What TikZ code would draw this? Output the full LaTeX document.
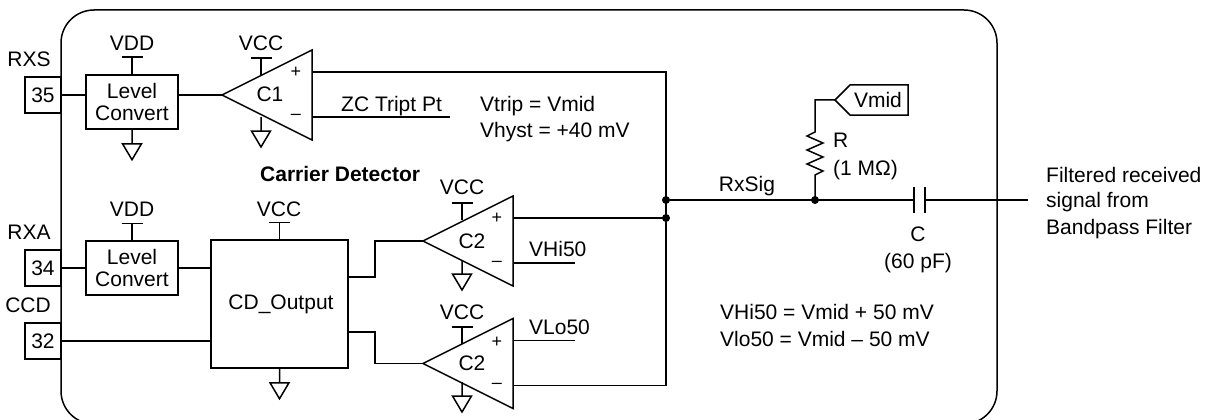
\documentclass[tikz,border=0pt]{standalone}
\usepackage{fontspec}
\setmainfont{Liberation Sans}
\begin{document}
\begin{tikzpicture}[x=1pt,y=-1pt,line join=miter,
  wire/.style={line width=1.5pt},
  txt/.style={font=\fontsize{21}{24}\selectfont,inner sep=0pt,text depth=0pt},
  sign/.style={font=\fontsize{18}{20}\selectfont,inner sep=0pt,text depth=0pt},
  ltxt/.style={txt,anchor=west},
  boxed/.style={draw,line width=1.5pt,fill=white,inner sep=0pt,align=center,font=\fontsize{21}{22}\selectfont},
  pinbox/.style={boxed,minimum width=36pt,minimum height=36pt},
  lcbox/.style={boxed,minimum width=92pt,minimum height=54pt},
  dot/.style={circle,fill=black,inner sep=0pt,minimum size=8pt},
  gnd/.pic={\draw[wire] (0,0) -- (0,14) (-9.5,14) -- (9.5,14) -- (0,30) -- cycle;},
  vsup/.pic={\draw[wire] (0,0) -- (0,-17) (-10.5,-17) -- (10.5,-17);},
  comp/.pic={\draw[wire,fill=white] (0,0) -- (90,-45) -- (90,45) -- cycle;
    \coordinate (-tip) at (0,0);
    \coordinate (-plus) at (90,-23);
    \coordinate (-minus) at (90,22);},
]
\useasboundingbox (0,0) rectangle (1211,420);
\begin{scope}
\clip (0,0) rectangle (1211,420);
\draw[wire,rounded corners=33pt] (61,10) rectangle (997,424);
\end{scope}
% pins
\node[pinbox] (p35) at (43,95) {35};
\node[pinbox] (p34) at (43,268) {34};
\node[pinbox] (p32) at (43,341) {32};
\node[txt] (lrxs) at (29,59) {RXS};
\node[txt] (lrxa) at (29,232) {RXA};
\node[txt] (lccd) at (28,305) {CCD};
% level converters and output block
\node[lcbox] (lc1) at (132,102) {Level\\Convert};
\node[lcbox] (lc2) at (132,268) {Level\\Convert};
\node[boxed,minimum width=137pt,minimum height=128pt] (cdo) at (279.5,304) {};
\node[txt] (cdt) at (281,302) {CD\_Output};
% comparators
\pic (c1) at (222,95) {comp};
\pic (c2) at (423,241) {comp};
\pic (c3) at (423,363.5) {comp};
\node[txt] (c1t) at (270,94) {C1};
\node[txt] (c2t) at (472,241) {C2};
\node[txt] (c3t) at (472,363) {C2};
\node[sign] (c1p) at (296,72) {+};
\node[sign] (c1m) at (296,117) {–};
\node[sign] (c2p) at (497,218) {+};
\node[sign] (c2m) at (497,264) {–};
\node[sign] (c3p) at (497,342) {+};
\node[sign] (c3m) at (497,386) {–};
% supplies
\pic at (lc1.north) {vsup};
\pic at (lc2.north) {vsup};
\pic at (cdo.north) {vsup};
\pic at (261,75) {vsup};
\pic at (462,220) {vsup};
\pic at (462,344) {vsup};
\node[txt] (v1) at (132,43) {VDD};
\node[txt] (v2) at (261,43) {VCC};
\node[txt] (v3) at (132,209) {VDD};
\node[txt] (v4) at (279,209) {VCC};
\node[txt] (v5) at (462,187) {VCC};
\node[txt] (v6) at (462,312) {VCC};
% grounds
\pic at (lc1.south) {gnd};
\pic at (cdo.south) {gnd};
\pic at (261,117) {gnd};
\pic at (462,260) {gnd};
\pic at (462,382) {gnd};
% wires
\coordinate (j1) at (666,200);
\coordinate (j2) at (666,218);
\coordinate (j3) at (815,200);
\coordinate (sigend) at (1028,200);
\coordinate (capl) at (914,200);
\coordinate (capr) at (925,200);
\coordinate (zcend) at (450,117);
\coordinate (hiend) at (575,263);
\coordinate (loend) at (575,340.5);
\draw[wire] (p35) ++(18,0) -- (lc1.west |- p35);
\draw[wire] (p34.east) -- (lc2.west |- p34);
\draw[wire] (p32.east) -- (cdo.west |- p32);
\draw[wire] (lc1.east |- c1-tip) -- (c1-tip);
\draw[wire] (lc2.east) -- (cdo.west |- lc2);
\draw[wire] (cdo.east |- 0,277) -- (375,277) -- (375,241) -- (c2-tip);
\draw[wire] (cdo.east |- 0,332) -- (375,332) -- (375,363.5) -- (c3-tip);
\draw[wire] (c1-plus) -- (j1 |- c1-plus) -- (c3-minus -| j1) -- (c3-minus);
\draw[wire] (c1-minus) -- (zcend);
\draw[wire] (c2-plus) -- (j2);
\draw[wire] (c2-minus) -- (hiend);
\draw[wire] (c3-plus) -- (loend);
\draw[wire] (j1) -- (capl);
\draw[wire] (capr) -- (sigend);
\draw[wire] (capl |- 0,187) -- (capl |- 0,213);
\draw[wire] (capr |- 0,187) -- (capr |- 0,213);
\node[dot] (d1) at (j1) {};
\node[dot] (d2) at (j2) {};
\node[dot] (d3) at (j3) {};
% resistor and Vmid flag
\coordinate (ftip) at (835,100);
\draw[wire] (ftip) -- (850,85) -- (908,85) -- (908,115) -- (850,115) -- cycle;
\node[txt] (vm) at (878,100) {Vmid};
\draw[wire] (j3) -- (815,175) -- (823,171) -- (807,164) -- (823,157) -- (807,150) -- (823,143) -- (807,136) -- (815,132) -- (815,100) -- (ftip);
% texts
\node[ltxt] (t1) at (341,104) {ZC Tript Pt};
\node[ltxt] (t2) at (480,104) {Vtrip = Vmid};
\node[ltxt] (t3) at (480,130) {Vhyst = +40 mV};
\node[ltxt,font=\fontsize{21}{24}\selectfont\bfseries] (t4) at (260,174) {Carrier Detector};
\node[ltxt] (t5) at (529,249) {VHi50};
\node[ltxt] (t6) at (529,327) {VLo50};
\node[txt] (t7) at (747,184) {RxSig};
\node[ltxt] (t8) at (833,140) {R};
\node[ltxt] (t9) at (833,168) {(1 MΩ)};
\node[txt] (t10) at (918,234) {C};
\node[txt] (t11) at (918,261) {(60 pF)};
\node[ltxt] (t12) at (1046,175) {Filtered received};
\node[ltxt] (t13) at (1046,200) {signal from};
\node[ltxt] (t14) at (1046,227) {Bandpass Filter};
\node[ltxt] (t15) at (720,312) {VHi50 = Vmid + 50 mV};
\node[ltxt] (t16) at (720,339) {Vlo50 = Vmid – 50 mV};
\end{tikzpicture}
\end{document}
